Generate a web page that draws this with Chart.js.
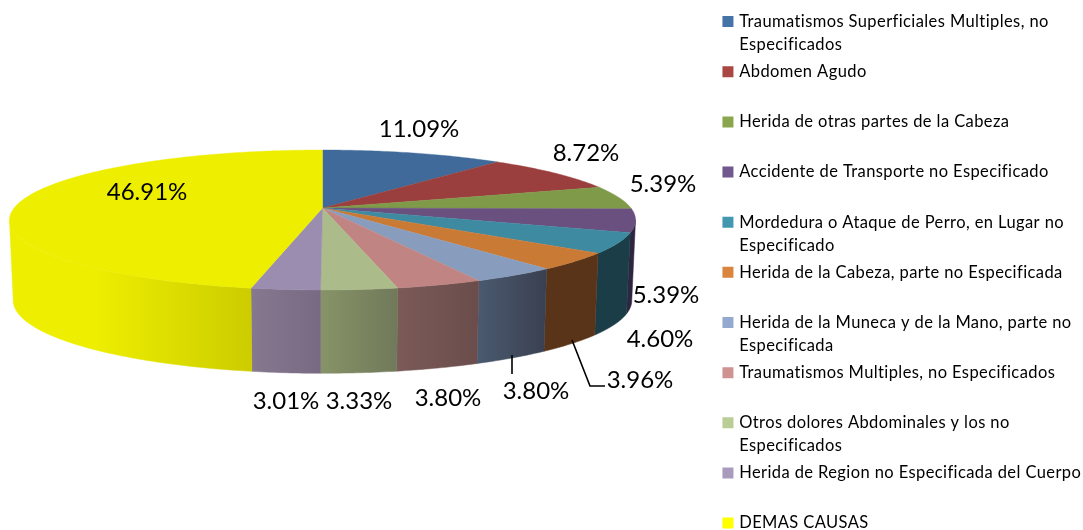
<!DOCTYPE html>
<html>
<head>
<meta charset="utf-8">
<script src="https://cdn.jsdelivr.net/npm/chart.js@4/dist/chart.umd.js"></script>
<style>
html,body{margin:0;padding:0;background:#fff;overflow:hidden}
#wrap{width:1083px;height:530px;overflow:hidden}
canvas{display:block}
</style>
</head>
<body>
<div id="wrap"><canvas id="c" width="1083" height="590"></canvas></div>
<script>
const categories = [
  ["Traumatismos Superficiales Multiples, no","Especificados"],
  ["Abdomen Agudo"," "],
  ["Herida de otras partes de la Cabeza"," "],
  ["Accidente de Transporte no Especificado"," "],
  ["Mordedura o Ataque de Perro, en Lugar no","Especificado"],
  ["Herida de la Cabeza, parte no Especificada"," "],
  ["Herida de la Muneca y de la Mano, parte no","Especificada"],
  ["Traumatismos Multiples, no Especificados"," "],
  ["Otros dolores Abdominales y los no","Especificados"],
  ["Herida de Region no Especificada del Cuerpo"," "],
  ["DEMAS CAUSAS"," "]
];
const values = [11.09, 8.72, 5.39, 5.39, 4.60, 3.96, 3.80, 3.80, 3.33, 3.01, 46.91];
const legendColors = ["#4572A7","#AA4643","#89A54E","#71588F","#4198AF","#DB843D","#93A9CF","#D19392","#B9CD96","#A99BBD","#FFFF00"];
const topColors = ["#3F6A9A","#9A3F3D","#7F9A48","#69507F","#3D8AA1","#C97A35","#889CBE","#C08583","#ABBB8A","#9A8DAF","#EEEE00"];
const sideColors = [
  ["#27425F","#27425F"],["#5F2726","#5F2726"],["#4F5F2C","#4F5F2C"],
  ["#2E2540","#2E2540"],["#1B3D48","#1B3D48"],["#5A3418","#5A3418"],
  ["#4A5A70","#3A4050"],["#7B5A58","#6A4D4B"],["#879367","#70795A"],
  ["#85788F","#786A82"],["#EEEE00","#CCCC00"]
];
const labelCenters = [[419,129],[586,153],[663,184],[666,295],[660,339],[640,380],[536,391],[448,398],[359,401],[286,401],[147,192]];

const apex = {x:322.5, y:208};
const persp = 0.1714, ay = 67.94, bx = 308.4;
function topPt(t){
  const u=Math.sin(t), v=Math.cos(t), d=1+persp*v;
  return [apex.x+bx*u/d, apex.y-ay*v/d];
}
function botPt(t){
  const u=Math.sin(t), v=Math.cos(t), d=1+persp*v;
  return [apex.x+0.988*bx*u/d, apex.y+80-1.04*ay*v/d];
}
const pie3d = {
  id:'pie3d',
  afterLayout(chart){
    const lg=chart.legend;
    lg.left=720.8; lg.right=1083; lg.width=lg.right-lg.left;
  },
  beforeDraw(chart){ chart.ctx.letterSpacing='0.4px'; },
  beforeDatasetDraw(chart,args){
    const ctx=chart.ctx, arcs=args.meta.data;
    const vis0=Math.PI/2+0.17, vis1=Math.PI*1.5-0.17;
    arcs.forEach((a,i)=>{
      const t0=Math.max(a.startAngle+Math.PI/2,vis0), t1=Math.min(a.endAngle+Math.PI/2,vis1);
      if(t1<=t0) return;
      const n=Math.max(4,Math.ceil((t1-t0)*80)); const pts=[],pbs=[];
      for(let k=0;k<=n;k++){const t=t0+(t1-t0)*k/n; pts.push(topPt(t)); pbs.push(botPt(t));}
      const xs=pts.concat(pbs).map(p=>p[0]);
      const xa=Math.min(...xs), xb=Math.max(...xs);
      const g=ctx.createLinearGradient(xa,0,xb,0);
      const [c0,c1]=sideColors[i];
      g.addColorStop(0,c0);
      if(i===values.length-1) g.addColorStop(0.35,c0);
      g.addColorStop(1,c1);
      ctx.beginPath();
      pts.forEach((p,k)=>k?ctx.lineTo(p[0],p[1]):ctx.moveTo(p[0],p[1]));
      pbs.reverse().forEach(p=>ctx.lineTo(p[0],p[1]));
      ctx.closePath(); ctx.fillStyle=g; ctx.fill();
      ctx.strokeStyle=g; ctx.lineWidth=0.5; ctx.stroke();
    });
    arcs.forEach((a,i)=>{
      const t0=a.startAngle+Math.PI/2, t1=a.endAngle+Math.PI/2;
      const n=Math.max(6,Math.ceil((t1-t0)*80));
      ctx.beginPath(); ctx.moveTo(apex.x,apex.y);
      for(let k=0;k<=n;k++){const p=topPt(t0+(t1-t0)*k/n); ctx.lineTo(p[0],p[1]);}
      ctx.closePath(); ctx.fillStyle=topColors[i]; ctx.fill();
      ctx.strokeStyle=topColors[i]; ctx.lineWidth=0.4; ctx.stroke();
    });
    return false;
  },
  afterDatasetsDraw(chart){
    const ctx=chart.ctx;
    ctx.save();
    ctx.letterSpacing='0px';
    ctx.strokeStyle='#000'; ctx.lineWidth=1.6;
    ctx.beginPath(); ctx.moveTo(572,340); ctx.lineTo(590,386); ctx.lineTo(605,386);
    ctx.moveTo(512,355); ctx.lineTo(512,374); ctx.stroke();
    ctx.fillStyle='#000'; ctx.font='24px Lato, Carlito, sans-serif';
    ctx.textAlign='center'; ctx.textBaseline='middle';
    values.forEach((v,i)=>ctx.fillText(v.toFixed(2)+'%',labelCenters[i][0],labelCenters[i][1]));
    ctx.restore();
  }
};
new Chart(document.getElementById('c'),{
  type:'pie',
  data:{labels:categories,datasets:[{data:values,backgroundColor:legendColors,borderWidth:0}]},
  plugins:[pie3d],
  options:{
    responsive:false,animation:false,
    layout:{padding:{top:9.2}},
    plugins:{
      tooltip:{enabled:false},
      legend:{
        position:'right',align:'start',
        labels:{
          boxWidth:6,boxHeight:6,padding:4.15,color:'#111',
          font:{family:'Lato, Carlito, sans-serif',size:16.5,lineHeight:'23px'},
          generateLabels(chart){
            return chart.data.labels.map((l,i)=>({text:l,fillStyle:legendColors[i],strokeStyle:legendColors[i],lineWidth:5,index:i}));
          }
        }
      }
    }
  }
});
</script>
</body>
</html>
